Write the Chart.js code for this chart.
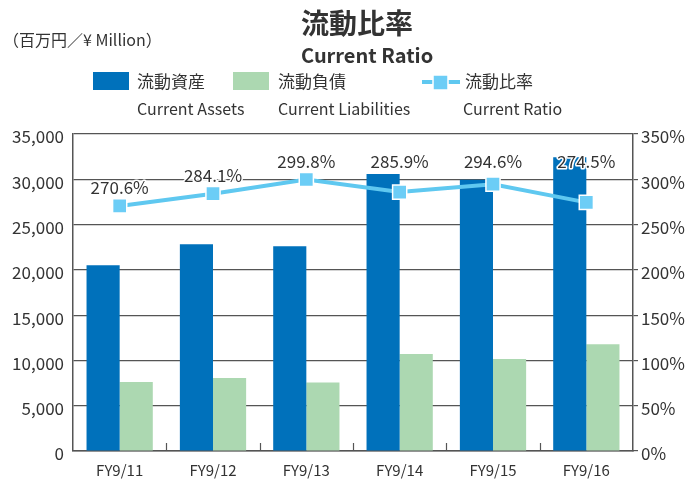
<!DOCTYPE html>
<html>
<head>
<meta charset="utf-8">
<script src="https://cdn.jsdelivr.net/npm/chart.js@4"></script>
<style>
  html, body { margin: 0; padding: 0; background: #fff; }
  #wrap { width: 699px; height: 480px; }
</style>
</head>
<body>
<div id="wrap"><canvas id="myChart" width="699" height="480"></canvas></div>
<script>
// data
const categories = ["FY9/11", "FY9/12", "FY9/13", "FY9/14", "FY9/15", "FY9/16"];
const currentAssets = [20520, 22830, 22610, 30590, 29960, 32430];
const currentLiabilities = [7610, 8050, 7560, 10700, 10150, 11800];
const currentRatio = [270.6, 284.1, 299.8, 285.9, 294.6, 274.5];
const ratioLabels = ["270.6%", "284.1%", "299.8%", "285.9%", "294.6%", "274.5%"];

const FONT = '"Noto Sans CJK JP", "Noto Sans", sans-serif';
const TEXT = "#333333";
const GRID = "#555555";
const BLUE = "#0071bb";
const GREEN = "#acd8b1";
const LINE = "#5fc8f0";
const MARK = "#6ccdf6";

// header: unit, title and the two-line legend
const headerPlugin = {
  id: "header",
  afterDraw(chart) {
    const ctx = chart.ctx;
    ctx.save();
    ctx.fillStyle = TEXT;
    ctx.textBaseline = "middle";
    ctx.textAlign = "left";

    ctx.font = "16px " + FONT;
    ctx.fillText("（百万円／¥ Million）", 3, 40);

    ctx.font = "bold 28px " + FONT;
    ctx.fillText("流動比率", 301, 23);
    ctx.font = "bold 20px " + FONT;
    ctx.fillText("Current Ratio", 301, 55);

    // bar legend boxes
    ctx.fillStyle = BLUE;
    ctx.fillRect(93, 72, 36, 18);
    ctx.fillStyle = GREEN;
    ctx.fillRect(233, 72, 36, 18);

    // line legend
    ctx.strokeStyle = LINE;
    ctx.lineWidth = 4;
    ctx.beginPath();
    ctx.moveTo(422, 82);
    ctx.lineTo(460, 82);
    ctx.stroke();
    ctx.fillStyle = MARK;
    ctx.strokeStyle = "#fff";
    ctx.lineWidth = 1.5;
    ctx.fillRect(433, 75, 15, 15);
    ctx.strokeRect(433, 75, 15, 15);

    ctx.fillStyle = TEXT;
    ctx.font = "17px " + FONT;
    ctx.fillText("流動資産", 137, 82);
    ctx.fillText("流動負債", 278, 82);
    ctx.fillText("流動比率", 465, 82);
    ctx.font = "16px " + FONT;
    ctx.fillText("Current Assets", 137, 109);
    ctx.fillText("Current Liabilities", 278, 109);
    ctx.fillText("Current Ratio", 463, 109);
    ctx.restore();
  }
};

// small tick marks between categories, pointing up from the base line
const catTicksPlugin = {
  id: "catTicks",
  afterDatasetsDraw(chart) {
    const x = chart.scales.x;
    const bottom = chart.chartArea.bottom;
    const ctx = chart.ctx;
    ctx.save();
    ctx.strokeStyle = GRID;
    ctx.lineWidth = 1.2;
    for (let i = 1; i < categories.length; i++) {
      const px = Math.round((x.getPixelForValue(i - 1) + x.getPixelForValue(i)) / 2) + 0.5;
      ctx.beginPath();
      ctx.moveTo(px, bottom - 8);
      ctx.lineTo(px, bottom);
      ctx.stroke();
    }
    ctx.restore();
  }
};

// ratio value labels above the markers; moved up to the top band
// when the assets bar reaches above the marker
const ratioLabelPlugin = {
  id: "ratioLabels",
  afterDatasetsDraw(chart) {
    const meta = chart.getDatasetMeta(2);
    const bars = chart.getDatasetMeta(0);
    const ctx = chart.ctx;
    const topBand = chart.chartArea.top + 28;
    ctx.save();
    ctx.font = "17px " + FONT;
    ctx.textAlign = "center";
    ctx.textBaseline = "middle";
    ctx.lineJoin = "round";
    meta.data.forEach((pt, i) => {
      const barTop = bars.data[i].y;
      const y = barTop < pt.y ? topBand : pt.y - 18;
      ctx.strokeStyle = "#fff";
      ctx.lineWidth = 3;
      ctx.strokeText(ratioLabels[i], pt.x, y);
      ctx.fillStyle = TEXT;
      ctx.fillText(ratioLabels[i], pt.x, y);
    });
    ctx.restore();
  }
};

const createChart = () => {
  const ctx = document.getElementById("myChart").getContext("2d");

  const data = {
    labels: categories,
    datasets: [
      {
        type: "bar",
        label: "流動資産",
        data: currentAssets,
        backgroundColor: BLUE,
        yAxisID: "y",
        order: 2,
        categoryPercentage: 0.71,
        barPercentage: 1.0,
      },
      {
        type: "bar",
        label: "流動負債",
        data: currentLiabilities,
        backgroundColor: GREEN,
        yAxisID: "y",
        order: 2,
        categoryPercentage: 0.71,
        barPercentage: 1.0,
      },
      {
        type: "line",
        label: "流動比率",
        data: currentRatio,
        borderColor: LINE,
        borderWidth: 4,
        pointStyle: "rect",
        pointRadius: 10,
        pointBackgroundColor: MARK,
        pointBorderColor: "#fff",
        pointBorderWidth: 1.5,
        yAxisID: "y1",
        order: 0,
        tension: 0,
      },
    ],
  };

  const config = {
    type: "bar",
    data: data,
    options: {
      responsive: false,
      animation: false,
      layout: { padding: { top: 134, left: 0, right: 0, bottom: 0 } },
      plugins: {
        legend: { display: false },
        tooltip: { enabled: false },
      },
      scales: {
        x: {
          grid: { display: false, drawTicks: false },
          border: { display: true, color: GRID, width: 1.5 },
          ticks: {
            font: { family: FONT, size: 15 },
            color: TEXT,
            padding: 10,
            maxRotation: 0,
          },
          afterFit: (scale) => { scale.height = 29; },
        },
        y: {
          position: "left",
          min: 0,
          max: 35000,
          grid: { color: GRID, lineWidth: 1.2, drawTicks: false },
          border: { display: true, color: GRID, width: 1.5 },
          ticks: {
            stepSize: 5000,
            font: { family: FONT, size: 17 },
            color: TEXT,
            padding: 9,
            labelOffset: 3,
            callback: (v) => v.toLocaleString("en-US"),
          },
          afterFit: (scale) => { scale.width = 73; },
        },
        y1: {
          position: "right",
          min: 0,
          max: 350,
          grid: { drawOnChartArea: false, color: GRID, lineWidth: 1.2, tickLength: 5 },
          border: { display: true, color: GRID, width: 1.5 },
          ticks: {
            stepSize: 50,
            font: { family: FONT, size: 17 },
            color: TEXT,
            padding: 3,
            labelOffset: 3,
            callback: (v) => v + "%",
          },
          afterFit: (scale) => { scale.width = 66; },
        },
      },
    },
    plugins: [headerPlugin, catTicksPlugin, ratioLabelPlugin],
  };

  new Chart(ctx, config);
};

document.addEventListener("DOMContentLoaded", createChart);
</script>
</body>
</html>
